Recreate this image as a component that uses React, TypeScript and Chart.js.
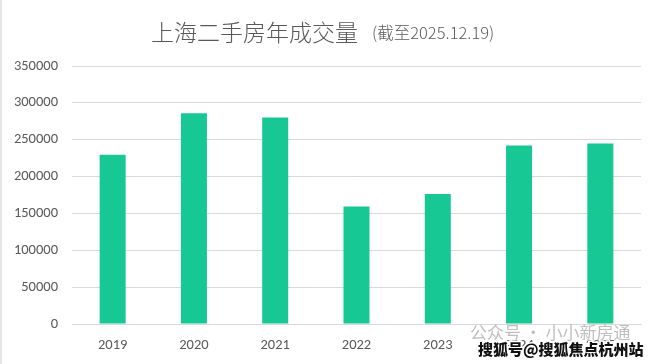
import React, { useEffect, useRef } from "react";
import { Chart, registerables } from "chart.js";

Chart.register(...registerables);

const years = ["2019", "2020", "2021", "2022", "2023", "2024", "2025"];
const volumes = [229500, 286000, 280000, 159500, 176500, 242000, 245000];
const yTicks = [0, 50000, 100000, 150000, 200000, 250000, 300000, 350000];
const titleMain = "上海二手房年成交量";
const titleSub = "(截至2025.12.19)";
const watermark1 = "公众号 · 小小新房通";
const watermark2 = "搜狐号@搜狐焦点杭州站";

const FONT = "'Noto Sans CJK SC', 'Noto Sans', sans-serif";
const LABEL_FONT = "Calibri, Carlito, 'Liberation Sans', 'Open Sans', sans-serif";

const overlayPlugin = {
  id: "overlayText",
  afterDraw(chart: any) {
    const ctx = chart.ctx as CanvasRenderingContext2D;
    ctx.save();
    ctx.textBaseline = "middle";
    ctx.textAlign = "left";
    ctx.fillStyle = "#595959";
    ctx.font = `300 23px ${FONT}`;
    ctx.fillText(titleMain, 151, 32);
    ctx.font = `300 16.5px ${FONT}`;
    ctx.fillText(titleSub, 372, 33);
    ctx.font = `400 17px ${FONT}`;
    ctx.fillStyle = "rgba(170,170,170,0.75)";
    ctx.fillText(watermark1, 470, 333);
    ctx.font = `800 15px ${FONT}`;
    ctx.lineWidth = 3;
    ctx.strokeStyle = "#ffffff";
    ctx.strokeText(watermark2, 478, 349);
    ctx.fillStyle = "#111111";
    ctx.fillText(watermark2, 478, 349);
    ctx.restore();
  },
};

export default function App() {
  const ref = useRef<HTMLCanvasElement>(null);
  useEffect(() => {
    document.body.style.margin = "0";
    const chart = new Chart(ref.current!, {
      type: "bar",
      data: {
        labels: years,
        datasets: [
          {
            data: volumes,
            backgroundColor: "#17c794",
            borderWidth: 0,
            barPercentage: 0.32,
            categoryPercentage: 1,
          },
        ],
      },
      options: {
        animation: false,
        responsive: false,
        maintainAspectRatio: false,
        layout: { padding: { top: 66, right: 19, bottom: 0, left: 0 } },
        plugins: {
          legend: { display: false },
          tooltip: { enabled: false },
          title: { display: false },
        },
        scales: {
          x: {
            grid: { display: false, drawTicks: false },
            border: { display: true, color: "#d9d9d9", width: 1 },
            ticks: {
              color: "#595959",
              font: { family: LABEL_FONT, size: 14.5 },
              padding: 13,
            },
            afterFit(scale: any) {
              scale.height = 40;
            },
          },
          y: {
            min: 0,
            max: 350000,
            afterBuildTicks(scale: any) {
              scale.ticks = yTicks.map((v) => ({ value: v }));
            },
            grid: { color: "#d9d9d9", lineWidth: 1, drawTicks: false },
            border: { display: false },
            ticks: {
              color: "#595959",
              font: { family: LABEL_FONT, size: 14.5 },
              padding: 14,
              callback: (v: any) => String(v),
            },
            afterFit(scale: any) {
              scale.width = 72;
            },
          },
        },
      },
      plugins: [overlayPlugin],
    });
    return () => chart.destroy();
  }, []);
  return (
    <div
      style={{
        position: "fixed",
        left: 0,
        top: 0,
        width: 660,
        height: 364,
        background: "#fff",
      }}
    >
      <canvas ref={ref} width={660} height={364} style={{ display: "block" }} />
      <div
        style={{
          position: "absolute",
          left: 0,
          top: 0,
          width: 2,
          height: 364,
          background: "#e6e6e6",
        }}
      />
    </div>
  );
}
